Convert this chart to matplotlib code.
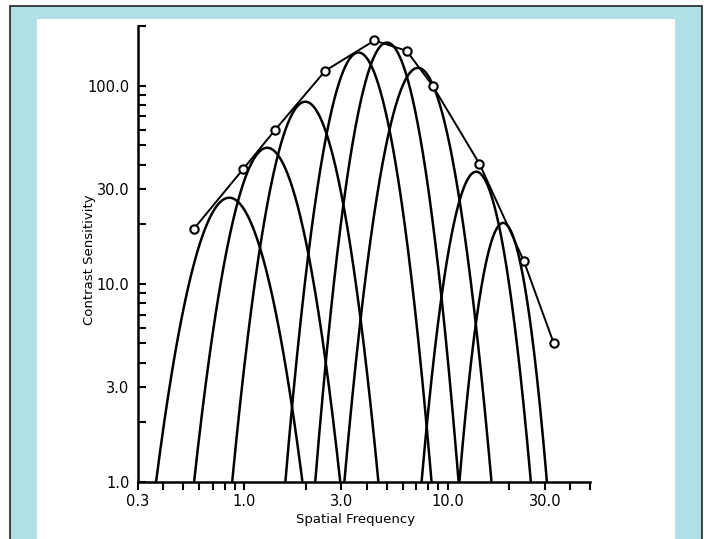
import numpy as np
import matplotlib.pyplot as plt
from matplotlib.patches import Rectangle
from matplotlib.ticker import FixedLocator, NullFormatter

# envelope (measured contrast sensitivity, open circles)
env_freq = [0.566, 0.99, 1.42, 2.5, 4.36, 6.27, 8.42, 14.3, 23.6, 33.2]
env_sens = [19.0, 38.1, 60.0, 119, 169, 150, 100, 40.4, 13.1, 5.0]

# channels: low cutoff, high cutoff (where sensitivity = 1) and peak sensitivity
chan_lo = [0.368, 0.566, 0.871, 1.59, 2.23, 3.10, 7.43, 11.4]
chan_hi = [1.93, 2.96, 4.56, 8.32, 11.3, 16.4, 25.6, 30.7]
chan_peak = [27.2, 48.6, 83.0, 147, 165, 123, 36.8, 20.3]

x_major = [0.3, 1.0, 3.0, 10.0, 30.0]
x_labels = ['0.3', '1.0', '3.0', '10.0', '30.0']
x_minor = [0.4, 0.5, 0.6, 0.7, 0.8, 0.9, 2, 4, 5, 6, 7, 8, 9, 20, 40, 50]
y_major = [1.0, 3.0, 10.0, 30.0, 100.0]
y_labels = ['1.0', '3.0', '10.0', '30.0', '100.0']
y_minor = [2, 4, 5, 6, 7, 8, 9, 20, 40, 50, 60, 70, 80, 90, 200]

fig = plt.figure(figsize=(7.04, 5.39), dpi=100)

# slide frame: blue border with white panel
fig.add_artist(Rectangle((10 / 704, -0.02), 692 / 704, (539 - 6) / 539 + 0.02,
                         transform=fig.transFigure, facecolor='#b0e0e6',
                         edgecolor='#222222', linewidth=1.2, zorder=0))
fig.add_artist(Rectangle((37 / 704, -0.02), 638 / 704, (539 - 19) / 539 + 0.02,
                         transform=fig.transFigure, facecolor='white',
                         edgecolor='none', zorder=0))

ax = fig.add_axes([138 / 704, (539 - 482) / 539, (590 - 138) / 704, (482 - 26) / 539])
ax.set_facecolor('none')
ax.set_xscale('log')
ax.set_yscale('log')

# channel curves: parabolas in log-log space
for lo, hi, pk in zip(chan_lo, chan_hi, chan_peak):
    llo, lhi = np.log10(lo), np.log10(hi)
    lp = (llo + lhi) / 2
    lf = np.linspace(llo, lhi, 300)
    u = (lf - lp) / (lp - llo)
    ls = np.log10(pk) * (1 - u ** 2)
    ax.plot(10 ** lf, 10 ** ls, color='black', lw=1.8, solid_capstyle='butt')

ax.plot(env_freq, env_sens, color='black', lw=1.4, marker='o', markersize=6,
        markerfacecolor='white', markeredgecolor='black', markeredgewidth=1.5,
        zorder=5)

ax.set_xlim(0.3, 50)
ax.set_ylim(1.0, 200)

for s in ['top', 'right']:
    ax.spines[s].set_visible(False)
for s in ['left', 'bottom']:
    ax.spines[s].set_linewidth(1.8)

ax.xaxis.set_major_locator(FixedLocator(x_major))
ax.xaxis.set_minor_locator(FixedLocator(x_minor))
ax.set_xticklabels(x_labels)
ax.xaxis.set_minor_formatter(NullFormatter())
ax.yaxis.set_major_locator(FixedLocator(y_major))
ax.yaxis.set_minor_locator(FixedLocator(y_minor))
ax.set_yticklabels(y_labels)
ax.yaxis.set_minor_formatter(NullFormatter())

ax.tick_params(axis='x', which='both', direction='out', length=6, width=1.5,
               labelsize=10.5, pad=3)
ax.tick_params(axis='y', which='both', direction='in', length=6, width=1.5,
               labelsize=10.5, pad=6)

ax.set_xlabel('Spatial Frequency', fontsize=9.5)
ax.xaxis.set_label_coords(0.482, -0.068)
ax.set_ylabel('Contrast Sensitivity', fontsize=9.5)
ax.yaxis.set_label_coords(-0.093, 0.487)

fig.savefig('out.png', dpi=100)
